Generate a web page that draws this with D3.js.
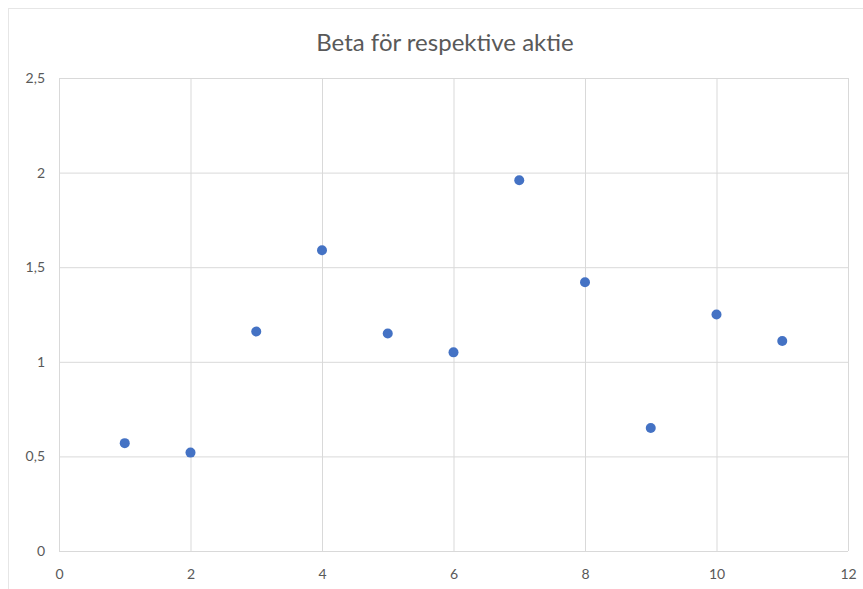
<!DOCTYPE html>
<html>
<head>
<meta charset="utf-8">
<script src="https://cdn.jsdelivr.net/npm/d3@7"></script>
<style>
  body { margin: 0; background: #fff; }
  text { font-family: Lato, "Open Sans", sans-serif; fill: #595959; }
</style>
</head>
<body>
<svg width="863" height="589"></svg>
<script>
var xValues = [1, 2, 3, 4, 5, 6, 7, 8, 9, 10, 11];
var betaValues = [0.57, 0.52, 1.16, 1.59, 1.15, 1.05, 1.96, 1.42, 0.65, 1.25, 1.11];
var xTicks = [0, 2, 4, 6, 8, 10, 12];
var yTicks = [0, 0.5, 1, 1.5, 2, 2.5];

var points = xValues.map(function(x, i) { return { x: x, y: betaValues[i] }; });

var svg = d3.select('svg');
var fmt = function(d) { return String(d).replace('.', ','); };

// chart frame edges
svg.append('line').attr('x1', 8).attr('x2', 863).attr('y1', 8.5).attr('y2', 8.5)
    .style('stroke', '#e6e6e6');
svg.append('line').attr('x1', 8.5).attr('x2', 8.5).attr('y1', 8).attr('y2', 589)
    .style('stroke', '#e6e6e6');

var xScale = d3.scaleLinear().domain([0, 12]).range([59, 848]);
var yScale = d3.scaleLinear().domain([0, 2.5]).range([551, 78]);

// gridlines
svg.append('g')
    .attr('transform', 'translate(0,551)')
    .call(d3.axisBottom(xScale).tickValues(xTicks).tickSize(-473).tickFormat(''))
    .call(function(g) {
        g.select('.domain').remove();
        g.selectAll('line').style('stroke', '#d9d9d9');
    });
svg.append('g')
    .attr('transform', 'translate(59,0)')
    .call(d3.axisLeft(yScale).tickValues(yTicks).tickSize(-789).tickFormat(''))
    .call(function(g) {
        g.select('.domain').remove();
        g.selectAll('line').style('stroke', '#d9d9d9');
    });

// tick labels
var xAxis = svg.append('g')
    .attr('transform', 'translate(0,551)')
    .call(d3.axisBottom(xScale).tickValues(xTicks).tickSize(0).tickPadding(18).tickFormat(fmt));
xAxis.select('.domain').remove();
xAxis.selectAll('text').style('font-size', '14px').style('fill', '#595959');

var yAxis = svg.append('g')
    .attr('transform', 'translate(59,0)')
    .call(d3.axisLeft(yScale).tickValues(yTicks).tickSize(0).tickPadding(14).tickFormat(fmt));
yAxis.select('.domain').remove();
yAxis.selectAll('text').style('font-size', '14px').style('fill', '#595959');

// points
svg.selectAll('circle')
    .data(points)
    .enter()
    .append('circle')
    .attr('cx', function(d) { return xScale(d.x); })
    .attr('cy', function(d) { return yScale(d.y); })
    .attr('r', 5)
    .style('fill', '#4472c4');

svg.append('text')
    .attr('x', 445)
    .attr('y', 51)
    .attr('text-anchor', 'middle')
    .style('font-size', '24px')
    .text('Beta för respektive aktie');
</script>
</body>
</html>
